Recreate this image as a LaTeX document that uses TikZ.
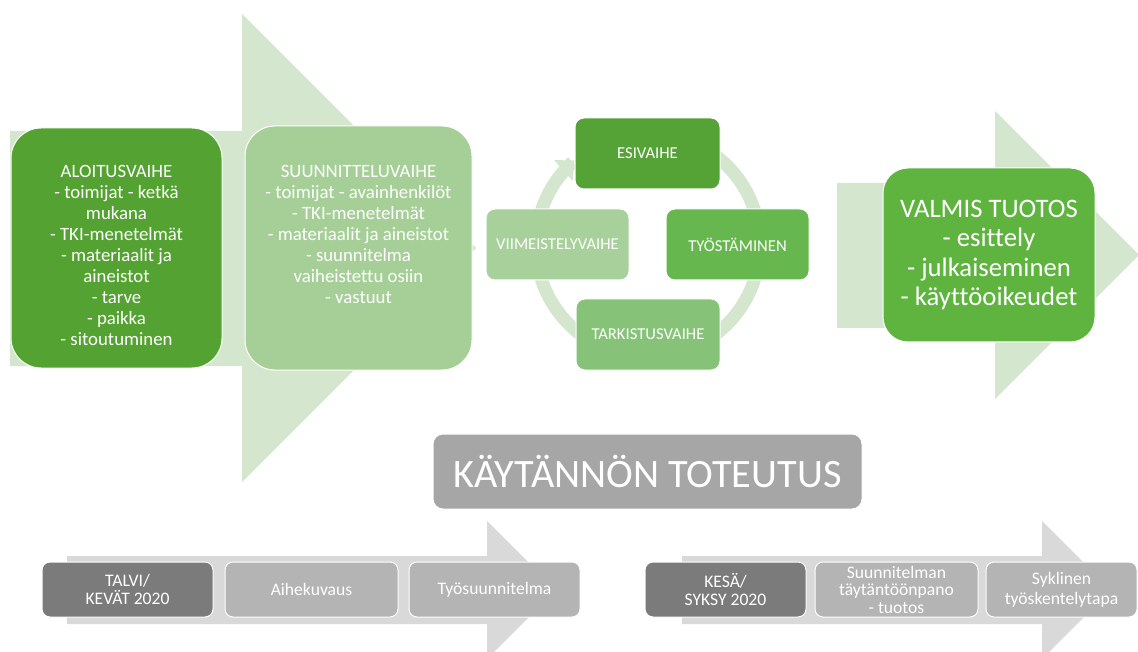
\documentclass[tikz,border=0pt]{standalone}
\usepackage{fontspec}
\setmainfont{Carlito}[Ligatures={NoCommon}]
\usetikzlibrary{arrows.meta}
\definecolor{arrowg}{HTML}{D4E7CE}
\definecolor{arrowgray}{HTML}{D9D9D9}
\definecolor{cAloit}{HTML}{54A232}
\definecolor{cSuunn}{HTML}{A6CF98}
\definecolor{cEsi}{HTML}{55A236}
\definecolor{cTyo}{HTML}{66B84E}
\definecolor{cTark}{HTML}{86C379}
\definecolor{cViim}{HTML}{A8D09B}
\definecolor{cValmis}{HTML}{5EB43E}
\definecolor{cTitle}{HTML}{A6A6A6}
\definecolor{cDark}{HTML}{7B7B7B}
\definecolor{cLight}{HTML}{B4B4B4}
\tikzset{
  box/.style={draw=white, line width=1pt, text=white, align=center, inner sep=0pt},
  txt/.style={text=white, align=center, inner sep=0pt},
  ring/.style={draw=arrowg, line width=13pt},
}
\begin{document}
\begin{tikzpicture}[x=1pt,y=-1pt]
\useasboundingbox (0,0) rectangle (1138,652);
% big background arrows
\fill[arrowg] (10,131) -- (242,131) -- (242,14) -- (476,248) -- (242,482) -- (242,366) -- (10,366) -- cycle;
\fill[arrowg] (837,183) -- (995,183) -- (995,111) -- (1139,255) -- (995,399) -- (995,328) -- (837,328) -- cycle;
\fill[arrowgray] (67,556) -- (487,556) -- (487,521) -- (556,590) -- (487,659) -- (487,624) -- (67,624) -- cycle;
\fill[arrowgray] (682,556) -- (1042,556) -- (1042,521) -- (1111,590) -- (1042,659) -- (1042,624) -- (682,624) -- cycle;
% cycle ring
\draw[ring] plot[domain=240:530, samples=80] ({648+112*cos(\x)},{245+112*sin(\x)});
\draw[ring, -{Triangle[width=27pt,length=15pt]}] plot[domain=190:229, samples=30] ({648+112*cos(\x)},{245+112*sin(\x)});
% top boxes
\node[box, fill=cAloit, rounded corners=30pt, minimum width=211pt, minimum height=240pt] (aloit) at (116.5,248) {};
\node[txt, anchor=north, font=\fontsize{18.8}{21}\selectfont] (aloittxt) at (116.5,165) {ALOITUSVAIHE\\- toimijat - ketkä\\mukana\\- TKI-menetelmät\\- materiaalit ja\\aineistot\\- tarve\\- paikka\\- sitoutuminen};
\node[box, fill=cSuunn, rounded corners=30pt, minimum width=227pt, minimum height=244pt] (suunn) at (358.5,248) {};
\node[txt, anchor=north, font=\fontsize{18.8}{21}\selectfont] (suunntxt) at (358.5,165) {SUUNNITTELUVAIHE\\- toimijat - avainhenkilöt\\- TKI-menetelmät\\- materiaalit ja aineistot\\- suunnitelma\\vaiheistettu osiin\\- vastuut};
% cycle boxes
\node[box, fill=cEsi, rounded corners=9pt, minimum width=145pt, minimum height=71pt, font=\fontsize{16.6}{19}\selectfont] (esi) at (647.5,153.5) {ESIVAIHE};
\node[box, fill=cTyo, rounded corners=9pt, minimum width=143pt, minimum height=71pt, font=\fontsize{16.6}{19}\selectfont] (tyo) at (737.5,244.5) {TYÖSTÄMINEN};
\node[box, fill=cTark, rounded corners=9pt, minimum width=144pt, minimum height=71pt, font=\fontsize{16.6}{19}\selectfont] (tark) at (648,334.5) {TARKISTUSVAIHE};
\node[box, fill=cViim, rounded corners=9pt, minimum width=143pt, minimum height=71pt, font=\fontsize{16.6}{19}\selectfont] (viim) at (557.5,244.5) {VIIMEISTELYVAIHE};
% final product
\node[box, fill=cValmis, rounded corners=25pt, minimum width=212pt, minimum height=174pt, font=\fontsize{26.7}{29.5}\selectfont] (valmis) at (989,255) {VALMIS TUOTOS\\- esittely\\- julkaiseminen\\- käyttöoikeudet};
% title
\node[box, fill=cTitle, rounded corners=10pt, minimum width=429pt, minimum height=75pt, font=\fontsize{40.3}{44}\selectfont] (title) at (647.5,471.5) {KÄYTÄNNÖN TOTEUTUS};
% bottom boxes
\node[box, fill=cDark, rounded corners=8pt, minimum width=171pt, minimum height=55pt, font=\fontsize{17.6}{18.5}\selectfont] (talvi) at (127.5,589.5) {TALVI/\\KEVÄT 2020};
\node[box, fill=cLight, rounded corners=8pt, minimum width=173pt, minimum height=55pt, font=\fontsize{17.6}{20}\selectfont] (aihe) at (311.5,589.5) {Aihekuvaus};
\node[box, fill=cLight, rounded corners=8pt, minimum width=171pt, minimum height=55pt, font=\fontsize{17.6}{20}\selectfont] (tyosuun) at (494.5,589.5) {Työsuunnitelma};
\node[box, fill=cDark, rounded corners=8pt, minimum width=161pt, minimum height=55pt, font=\fontsize{17.6}{18.5}\selectfont] (kesa) at (725.5,589.5) {KESÄ/\\SYKSY 2020};
\node[box, fill=cLight, rounded corners=8pt, minimum width=163pt, minimum height=55pt, font=\fontsize{17.6}{17.5}\selectfont] (toteut) at (896.5,589.5) {Suunnitelman\\täytäntöönpano\\- tuotos};
\node[box, fill=cLight, rounded corners=8pt, minimum width=151pt, minimum height=55pt, font=\fontsize{17.6}{20}\selectfont] (sykl) at (1061.5,589.5) {Syklinen\\työskentelytapa};
\end{tikzpicture}
\end{document}
